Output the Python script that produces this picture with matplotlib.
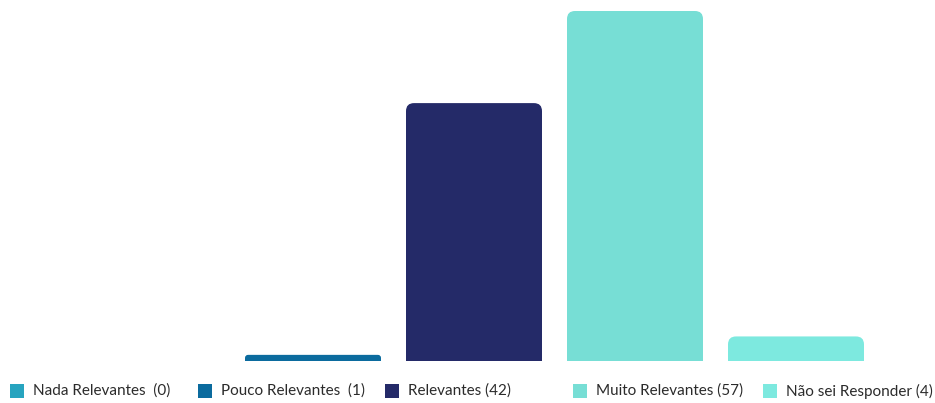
import matplotlib.pyplot as plt
from matplotlib.patches import FancyBboxPatch, Rectangle

categories = ["Nada Relevantes", "Pouco Relevantes", "Relevantes", "Muito Relevantes", "Não sei Responder"]
values = [0, 1, 42, 57, 4]
legend_labels = ["Nada Relevantes  (0)", "Pouco Relevantes  (1)", "Relevantes (42)",
                 "Muito Relevantes (57)", "Não sei Responder (4)"]
colors = ["#27a4bf", "#0b6b9e", "#242a68", "#77ded5", "#7de9df"]

plt.rcParams["font.family"] = ["Lato", "DejaVu Sans"]

W, H = 935, 403
fig = plt.figure(figsize=(W / 100, H / 100), dpi=100)
# axes placed in pixel terms: baseline at y=361, top of tallest bar at y=11
ax_left, ax_right = 71.5, 876.5
ax_bottom, ax_top = 361, 11
ax = fig.add_axes([ax_left / W, 1 - ax_bottom / H, (ax_right - ax_left) / W, (ax_bottom - ax_top) / H])
ax.set_xlim(-0.5, 4.5)
ax.set_ylim(0, max(values))
ax.axis("off")

bar_w = 136 / 161
px_x = (ax_right - ax_left) / 5          # pixels per x unit
px_y = (ax_bottom - ax_top) / max(values)  # pixels per y unit

for i, (v, c) in enumerate(zip(values, colors)):
    if v <= 0:
        continue
    x0 = i - bar_w / 2
    r_px = min(8, v * px_y / 2)
    rx = r_px / px_x
    ry = r_px / px_y
    ax.add_patch(FancyBboxPatch((x0, 0), bar_w, v,
                                boxstyle=f"round,pad=0,rounding_size={rx}",
                                mutation_aspect=ry / rx, fc=c, ec="none"))
    # square off the bottom corners
    ax.add_patch(Rectangle((x0, 0), bar_w, v - ry, fc=c, ec="none"))

# legend
sq_x = [10, 198, 385, 573, 763]
for x, c, lab in zip(sq_x, colors, legend_labels):
    fig.patches.append(Rectangle((x / W, 1 - 398 / H), 14 / W, 14 / H,
                                 transform=fig.transFigure, fc=c, ec="none"))
    fig.text((x + 23) / W, 1 - 391 / H, lab, fontsize=11, color="#2b2b2b",
             va="center", ha="left")

fig.savefig("out.png", dpi=100)
